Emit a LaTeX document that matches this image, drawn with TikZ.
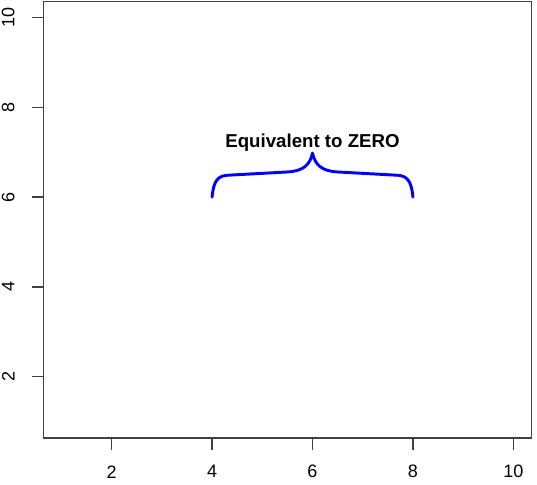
\documentclass[tikz,border=0pt]{standalone}
\usepackage{fontspec}
\setmainfont{Liberation Sans}
\usetikzlibrary{arrows.meta}

\begin{document}
\begin{tikzpicture}[
    x=37.65pt, y=33.675pt,
    font=\fontsize{13.5}{16}\selectfont,
    frame/.style={draw=black!75, line width=1.1pt},
    tick/.style={draw=black!75, line width=1.1pt},
    ticklab/.style={inner sep=0pt},
    brace/.style={draw=blue, line width=2.2pt, line cap=round, line join=round},
    annot/.style={font=\fontsize{14}{16}\selectfont\bfseries, inner sep=0pt},
  ]
  \useasboundingbox (-0.225,-0.39) rectangle (10.472,10.39);

  \draw[frame] (0.64,0.64) rectangle (10.36,10.36);

  % x axis
  \foreach \v in {2,4,...,10} {
    \draw[tick] (\v,0.64) -- ++(0,-9pt);
    \node[ticklab] (xl\v) at (\v,-0.116) {\v};
  }

  % y axis
  \foreach \v in {2,4,...,10} {
    \draw[tick] (0.64,\v) -- ++(-8.5pt,0);
    \node[ticklab, rotate=90] (yl\v) at (-0.06,\v) {\v};
  }

  \coordinate (bl) at (4,6);
  \coordinate (tip) at (6,6.98);
  \coordinate (br) at (8,6);

  \node[annot] (zero) at (6,7.22) {Equivalent to ZERO};

  \draw[brace] (bl) .. controls ++(0.03,0.38) and (4.12,6.49) .. (4.36,6.49)
    -- (5.5,6.56) .. controls (5.82,6.58) and (5.95,6.72) .. (tip)
    .. controls (6.05,6.72) and (6.18,6.58) .. (6.5,6.56)
    -- (7.64,6.49) .. controls (7.88,6.49) and (7.97,6.38) .. (br);

\end{tikzpicture}
\end{document}
